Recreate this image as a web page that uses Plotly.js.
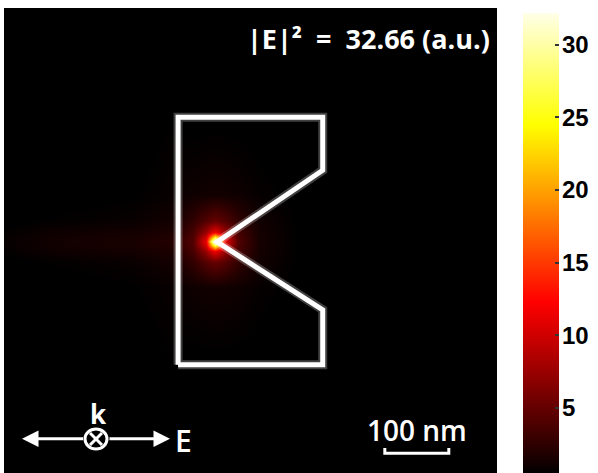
<!DOCTYPE html>
<html>
<head>
<meta charset="utf-8">
<script src="https://cdn.plot.ly/plotly-3.0.1.min.js"></script>
<style>html,body{margin:0;padding:0;background:#fff;}#chart{width:598px;height:473px;}</style>
</head>
<body>
<div id="chart"></div>
<script>
// Field grid (nm) and |E|^2 values
const fieldX = [0, 80, 200, 262, 295, 315, 325, 330, 335, 345, 365, 398, 460, 580, 770];
const fieldY = [0, 150, 290, 330, 347, 357, 362, 367, 377, 394, 434, 574, 727];
const fieldZ = [
  [0.05,0.07,0.09,0.10,0.10,0.10,0.10,0.10,0.10,0.10,0.10,0.10,0.09,0.07,0.04],
  [0.09,0.12,0.20,0.50,0.27,0.27,0.27,0.27,0.27,0.27,0.27,0.25,0.20,0.12,0.06],
  [0.11,0.30,0.50,0.80,1.00,1.10,1.15,1.15,1.15,1.10,1.00,0.70,0.40,0.19,0.07],
  [0.40,0.60,0.80,1.20,2.60,4.20,4.80,5.00,4.80,4.20,2.60,1.10,0.50,0.20,0.07],
  [0.60,1.00,1.20,1.60,3.60,7.50,10.5,11.5,10.5,7.50,3.60,1.22,0.51,0.20,0.07],
  [0.70,1.10,1.40,1.90,4.00,10.5,22.0,27.0,22.0,10.5,4.00,1.27,0.52,0.20,0.07],
  [0.70,1.10,1.40,2.00,4.10,11.5,27.0,32.66,27.0,11.5,4.10,1.28,0.52,0.20,0.07],
  [0.70,1.10,1.40,1.90,4.00,10.5,22.0,27.0,22.0,10.5,4.00,1.27,0.52,0.20,0.07],
  [0.60,1.00,1.20,1.60,3.60,7.50,10.5,11.5,10.5,7.50,3.60,1.22,0.51,0.20,0.07],
  [0.40,0.60,0.80,1.20,2.60,4.20,4.80,5.00,4.80,4.20,2.60,1.10,0.50,0.20,0.07],
  [0.11,0.30,0.50,0.80,1.00,1.10,1.15,1.15,1.15,1.10,1.00,0.70,0.40,0.19,0.07],
  [0.09,0.12,0.20,0.50,0.27,0.27,0.27,0.27,0.27,0.27,0.27,0.25,0.20,0.12,0.06],
  [0.05,0.07,0.09,0.10,0.10,0.10,0.10,0.10,0.10,0.10,0.10,0.10,0.09,0.07,0.04]
];
// Nanostructure outline (nm)
const shapeX = [272, 272, 498, 498, 333, 498, 498, 272];
const shapeY = [169, 556, 556, 473, 361, 255, 169, 169];
// Colour bar ticks
const cbTicks = [5, 10, 15, 20, 25, 30];
const cbTickText = ['5', '10', '15', '20', '25', '30'];
const cbRange = [0.5, 32.2];

const W = 598, H = 473;
function px(x) { return x / W; }          // pixel from left -> paper x
function py(y) { return (H - y) / H; }    // pixel from top  -> paper y

const hot = [
  [0.0, 'rgb(0,0,0)'],
  [0.02, 'rgb(18,0,0)'],
  [0.371, 'rgb(255,0,0)'],
  [0.757, 'rgb(255,255,0)'],
  [1.0, 'rgb(255,255,232)']
];

const traces = [
  {
    type: 'heatmap', x: fieldX, y: fieldY, z: fieldZ,
    zmin: cbRange[0], zmax: cbRange[1], zsmooth: 'best', colorscale: hot,
    hoverinfo: 'skip',
    colorbar: {
      x: px(523), xanchor: 'left', xpad: 0, y: 0, yanchor: 'bottom', ypad: 0,
      len: 460, lenmode: 'pixels', thickness: 36, thicknessmode: 'pixels',
      outlinewidth: 0, tickvals: cbTicks, showticklabels: false,
      ticks: 'inside', ticklen: 4, tickwidth: 2, tickcolor: '#333'
    }
  },
  {
    type: 'scatter', mode: 'lines', x: shapeX, y: shapeY,
    line: {color: 'rgba(255,255,255,0.25)', width: 9}, hoverinfo: 'skip', showlegend: false
  },
  {
    type: 'scatter', mode: 'lines', x: shapeX, y: shapeY,
    line: {color: '#ffffff', width: 5}, hoverinfo: 'skip', showlegend: false
  },
  // empty trace that carries the colour-bar label axis
  {
    type: 'scatter', mode: 'markers', x: [], y: [], xaxis: 'x2', yaxis: 'y2',
    hoverinfo: 'skip', showlegend: false
  }
];

const white = '#ffffff';
const layout = {
  width: W, height: H,
  margin: {l: 0, r: 0, t: 0, b: 0, pad: 0},
  paper_bgcolor: '#ffffff', plot_bgcolor: '#000000',
  showlegend: false,
  xaxis: {domain: [px(4), px(497)], range: [0, 770.3], visible: false, fixedrange: true},
  yaxis: {domain: [0, py(8)], range: [0, 726.6], visible: false, fixedrange: true},
  xaxis2: {domain: [px(523), px(559)], range: [0, 1], visible: false, fixedrange: true, anchor: 'y2'},
  yaxis2: {
    domain: [0, 460 / H], range: cbRange, anchor: 'free', position: px(561), side: 'right',
    tickvals: cbTicks, ticktext: cbTickText, ticks: '', showline: false, showgrid: false,
    zeroline: false, fixedrange: true,
    tickfont: {family: 'Arial, Liberation Sans, sans-serif', size: 24, color: '#000', weight: 'bold'}
  },
  annotations: [
    {xref: 'paper', yref: 'paper', x: px(492), y: py(38), xanchor: 'right', yanchor: 'middle',
     text: '|E|²&nbsp;&nbsp;=&nbsp; 32.66 (a.u.)', showarrow: false,
     font: {family: 'Open Sans', size: 27, color: white, weight: 700}},
    {xref: 'paper', yref: 'paper', x: px(417), y: py(430), xanchor: 'center', yanchor: 'middle',
     text: '100 nm', showarrow: false,
     font: {family: 'Open Sans', size: 28, color: white, weight: 600}},
    {xref: 'paper', yref: 'paper', x: px(98), y: py(413.5), xanchor: 'center', yanchor: 'middle',
     text: 'k', showarrow: false,
     font: {family: 'Open Sans', size: 26, color: white, weight: 700}},
    {xref: 'paper', yref: 'paper', x: px(173.5), y: py(440.5), xanchor: 'left', yanchor: 'middle',
     text: 'E', showarrow: false,
     font: {family: 'Open Sans', size: 30, color: white, weight: 600}},
    // arrows
    {xref: 'paper', yref: 'paper', x: px(22), y: py(438.7), ax: px(84.5), ay: py(438.7),
     axref: 'paper', ayref: 'paper', text: '', showarrow: true,
     arrowhead: 2, arrowsize: 1.1, arrowwidth: 3, arrowcolor: white},
    {xref: 'paper', yref: 'paper', x: px(170), y: py(438.7), ax: px(108), ay: py(438.7),
     axref: 'paper', ayref: 'paper', text: '', showarrow: true,
     arrowhead: 2, arrowsize: 1.1, arrowwidth: 3, arrowcolor: white}
  ],
  shapes: [
    // k-vector symbol (circle with cross)
    {type: 'circle', xref: 'paper', yref: 'paper', x0: px(85), x1: px(107), y0: py(449), y1: py(429),
     line: {color: white, width: 3}, fillcolor: 'rgba(0,0,0,0)'},
    {type: 'line', xref: 'paper', yref: 'paper', x0: px(90), x1: px(102), y0: py(445), y1: py(433),
     line: {color: white, width: 3}},
    {type: 'line', xref: 'paper', yref: 'paper', x0: px(90), x1: px(102), y0: py(433), y1: py(445),
     line: {color: white, width: 3}},
    // scale bar (100 nm in axis units)
    {type: 'path', xref: 'x', yref: 'y', path: 'M 595 39 L 595 31 L 695 31 L 695 39',
     line: {color: white, width: 3}}
  ]
};

Plotly.newPlot('chart', traces, layout, {displayModeBar: false, staticPlot: true});
</script>
</body>
</html>
